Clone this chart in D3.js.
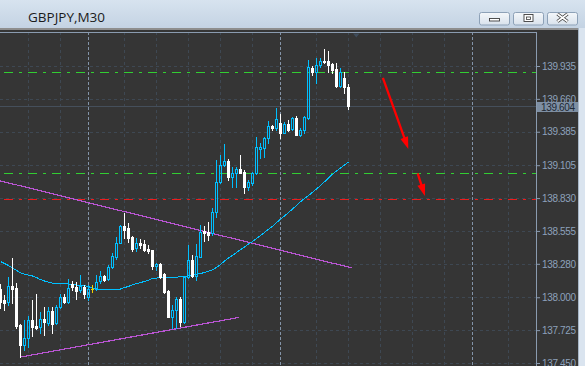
<!DOCTYPE html>
<html><head><meta charset="utf-8">
<script src="https://cdn.jsdelivr.net/npm/d3@7"></script>
<style>html,body{margin:0;padding:0;background:#353535;overflow:hidden}svg{display:block}</style>
</head><body><svg id="c" width="585" height="366"></svg>
<script>
const symbolTitle = "GBPJPY,M30";
const opens = [138.069,137.973,137.963,138.094,138.075,137.768,137.600,137.656,137.810,137.763,
137.748,137.820,137.787,137.882,137.782,137.921,138.004,137.963,138.111,138.088,
138.061,138.088,138.004,138.069,138.069,138.132,138.178,138.153,138.251,138.339,
138.456,138.596,138.577,138.507,138.415,138.456,138.445,138.401,138.395,138.264,
138.276,138.192,138.052,137.837,137.893,137.985,137.795,138.167,138.312,138.178,
138.339,138.554,138.543,138.535,138.716,138.967,139.107,139.143,139.009,139.037,
139.071,139.050,138.925,138.953,139.037,139.240,139.246,139.330,139.433,139.414,
139.461,139.377,139.450,139.405,139.497,139.358,139.399,139.497,139.916,139.887,
139.943,139.977,139.977,139.952,139.907,139.768,139.832,139.757];
const highs = [138.111,138.019,138.172,138.326,138.117,137.776,137.810,137.847,137.977,138.027,
137.879,137.918,137.921,137.918,137.935,138.027,138.031,138.150,138.132,138.130,
138.186,138.102,138.102,138.102,138.186,138.220,138.186,138.270,138.368,138.507,
138.604,138.707,138.619,138.512,138.493,138.485,138.479,138.437,138.399,138.284,
138.284,138.199,138.061,137.935,138.004,138.004,138.172,138.437,138.353,138.445,
138.604,138.596,138.632,138.744,139.148,139.190,139.282,139.157,139.087,139.092,
139.190,139.065,138.981,139.052,139.338,139.288,139.338,139.477,139.441,139.581,
139.533,139.469,139.483,139.506,139.517,139.414,139.517,139.985,139.935,139.999,
139.999,140.077,140.063,139.963,139.958,139.918,139.887,139.784];
const lows = [137.910,137.893,137.935,137.949,137.743,137.500,137.558,137.588,137.676,137.734,
137.701,137.684,137.768,137.701,137.776,137.914,137.952,137.956,138.061,137.985,
138.046,137.994,137.977,138.046,138.061,138.123,138.136,138.144,138.242,138.320,
138.451,138.493,138.465,138.389,138.387,138.410,138.389,138.368,138.236,138.228,
138.158,138.033,137.832,137.740,137.740,137.759,137.782,138.158,138.172,138.144,
138.334,138.473,138.479,138.521,138.674,138.960,139.098,138.981,138.925,138.920,
139.037,138.870,138.897,138.943,139.031,139.163,139.170,139.288,139.399,139.399,
139.330,139.372,139.394,139.399,139.355,139.349,139.372,139.489,139.860,139.795,
139.924,139.958,139.887,139.874,139.757,139.757,139.712,139.575];
const closes = [137.960,137.956,138.094,138.071,137.762,137.600,137.656,137.810,137.753,137.747,
137.815,137.795,137.882,137.776,137.921,138.004,137.958,138.075,138.086,138.055,
138.094,138.027,138.066,138.069,138.130,138.178,138.144,138.251,138.345,138.456,
138.596,138.563,138.493,138.401,138.451,138.437,138.395,138.387,138.264,138.276,
138.167,138.046,137.837,137.893,137.985,137.795,138.167,138.312,138.178,138.345,
138.548,138.535,138.523,138.716,138.967,139.107,139.143,139.009,139.037,139.071,
139.042,138.925,138.967,139.037,139.255,139.255,139.335,139.433,139.419,139.489,
139.377,139.447,139.399,139.497,139.358,139.399,139.506,139.924,139.887,139.943,
139.979,139.968,139.943,139.902,139.768,139.885,139.757,139.604];
const maValues = [138.299,138.282,138.266,138.245,138.224,138.205,138.194,138.186,138.178,138.165,
138.148,138.136,138.127,138.119,138.116,138.114,138.112,138.111,138.107,138.102,
138.101,138.098,138.088,138.079,138.071,138.065,138.062,138.061,138.061,138.061,
138.069,138.081,138.091,138.105,138.115,138.122,138.133,138.144,138.156,138.161,
138.163,138.166,138.167,138.168,138.169,138.171,138.173,138.178,138.184,138.191,
138.199,138.207,138.218,138.231,138.249,138.274,138.303,138.328,138.351,138.374,
138.398,138.421,138.445,138.467,138.492,138.517,138.543,138.568,138.594,138.625,
138.652,138.680,138.709,138.738,138.769,138.799,138.826,138.852,138.878,138.906,
138.935,138.966,138.998,139.030,139.056,139.081,139.107,139.132];
const priceTicks = [139.935,139.660,139.385,139.105,138.830,138.555,138.280,138.000,137.725,137.450];
const gridBars = [7,15,31,39,47,55,63,79,87,95,103,111,127];
const daySeparatorBars = [22,70,118];
const bidPrice = 139.604;
const greenLevels = [139.885, 139.040];
const redLevels = [138.823];
const trendLines = [{b1:-2,p1:138.990,b2:87.9,p2:138.245},{b1:5.05,p1:137.500,b2:59.7,p2:137.832}];
const arrows = [{b1:95.6,p1:139.835,b2:101.95,p2:139.241},{b1:104.3,p1:139.037,b2:106.1,p2:138.847}];

const W = 585, H = 366;
const plotRight = 536, plotTop = 32;
const svg = d3.select("#c");
const y = d3.scaleLinear().domain([137.450, 139.935]).range([363, 66]);
const x = d3.scaleLinear().domain([0, 1]).range([0.5, 4.5]);
const ry = v => Math.round(y(v));

const defs = svg.append("defs");
const tg = defs.append("linearGradient").attr("id","tb").attr("x1",0).attr("y1",0).attr("x2",0).attr("y2",1);
tg.append("stop").attr("offset","0").attr("stop-color","#d7e3ef");
tg.append("stop").attr("offset","1").attr("stop-color","#c4d3e3");
const bg = defs.append("linearGradient").attr("id","bt").attr("x1",0).attr("y1",0).attr("x2",0).attr("y2",1);
bg.append("stop").attr("offset","0").attr("stop-color","#f4f7fa");
bg.append("stop").attr("offset","1").attr("stop-color","#d9e2ec");
defs.append("clipPath").attr("id","plot").append("rect").attr("x",0).attr("y",plotTop+1).attr("width",plotRight).attr("height",H-plotTop);

// window chrome
svg.append("rect").attr("x",0).attr("y",0).attr("width",W).attr("height",28).attr("fill","url(#tb)");
svg.append("rect").attr("x",0).attr("y",28).attr("width",W).attr("height",2).attr("fill","#8e8e8e");
svg.append("rect").attr("x",0).attr("y",30).attr("width",578).attr("height",H-30).attr("fill","#353535");
svg.append("rect").attr("x",578).attr("y",28).attr("width",7).attr("height",H-28).attr("fill","#dae4ef");
svg.append("line").attr("x1",578.5).attr("x2",578.5).attr("y1",28).attr("y2",H).attr("stroke","#a7b6c6");
svg.append("text").attr("x",28).attr("y",21.5).text(symbolTitle)
  .attr("font-family","'Open Sans', 'Noto Sans', sans-serif").attr("font-size",13.5).attr("fill","#1b1b1b");

const btns = [479.5, 513.5, 547.5];
btns.forEach((bx, k) => {
  svg.append("rect").attr("x",bx).attr("y",12.5).attr("width",30).attr("height",12.5).attr("rx",2)
    .attr("fill","url(#bt)").attr("stroke","#8da1b7");
  const cx = bx + 15;
  if (k === 0) {
    svg.append("rect").attr("x",cx-5).attr("y",18.5).attr("width",10).attr("height",2.5).attr("fill","#fff").attr("stroke","#3d3d3d").attr("stroke-width",0.9);
  } else if (k === 1) {
    svg.append("rect").attr("x",cx-4.5).attr("y",14.5).attr("width",9).attr("height",7).attr("fill","#fff").attr("stroke","#3d3d3d").attr("stroke-width",0.9);
    svg.append("rect").attr("x",cx-2).attr("y",17).attr("width",4).attr("height",2.5).attr("fill","none").attr("stroke","#3d3d3d").attr("stroke-width",0.8);
  } else {
    const p = `M${cx-5},${14} L${cx+5},${21.5} M${cx+5},${14} L${cx-5},${21.5}`;
    svg.append("path").attr("d",p).attr("stroke","#3d3d3d").attr("stroke-width",3.4).attr("fill","none");
    svg.append("path").attr("d",p).attr("stroke","#ffffff").attr("stroke-width",1.6).attr("fill","none");
  }
});

const g = svg.append("g").attr("clip-path","url(#plot)");
// grid
g.selectAll(".hg").data(priceTicks).enter().append("line")
  .attr("x1",0).attr("x2",plotRight).attr("y1",d=>ry(d)+0.5).attr("y2",d=>ry(d)+0.5)
  .attr("stroke","#3e4853").attr("stroke-dasharray","3,3");
g.selectAll(".vg").data(gridBars).enter().append("line")
  .attr("x1",d=>x(d)).attr("x2",d=>x(d)).attr("y1",plotTop).attr("y2",H)
  .attr("stroke","#3e4853").attr("stroke-dasharray","3,3");
g.selectAll(".sep").data(daySeparatorBars).enter().append("line")
  .attr("x1",d=>x(d)).attr("x2",d=>x(d)).attr("y1",plotTop).attr("y2",H)
  .attr("stroke","#8394a8").attr("stroke-dasharray","3,2");
// bid line
g.append("line").attr("x1",0).attr("x2",plotRight).attr("y1",ry(bidPrice)+0.5).attr("y2",ry(bidPrice)+0.5)
  .attr("stroke","#454f5b");
// levels
const lvl = (arr, col) => g.selectAll(null).data(arr).enter().append("line")
  .attr("x1",0).attr("x2",plotRight).attr("y1",d=>ry(d)+0.5).attr("y2",d=>ry(d)+0.5)
  .attr("stroke",col).attr("stroke-dasharray","9,6,3,6").attr("stroke-dashoffset",-4);
lvl(greenLevels, "#32cd32");
lvl(redLevels, "#ee1c1c");

// trend lines
g.selectAll(".tl").data(trendLines).enter().append("line")
  .attr("x1",d=>x(d.b1)).attr("y1",d=>y(d.p1)).attr("x2",d=>x(d.b2)).attr("y2",d=>y(d.p2))
  .attr("stroke","#ba55d3").attr("stroke-width",1.2).attr("shape-rendering","crispEdges");

// moving average
g.append("path").datum(maValues)
  .attr("d", d3.line().x((d,i)=>x(i)).y(d=>y(d)))
  .attr("fill","none").attr("stroke","#00bfff").attr("stroke-width",1).attr("shape-rendering","crispEdges");

// candles
const blue = "#00bfff";
const cg = g.append("g").attr("shape-rendering","crispEdges");
opens.forEach((o,i) => {
  const c = closes[i], h = highs[i], l = lows[i];
  const cx = Math.round(x(i) - 0.5);
  const yh = ry(h), yl = ry(l);
  const top = ry(Math.max(o,c)), bot = ry(Math.min(o,c));
  if (c > o) {
    if (yh < top) cg.append("rect").attr("x",cx).attr("y",yh).attr("width",1).attr("height",top-yh).attr("fill",blue);
    if (yl > bot) cg.append("rect").attr("x",cx).attr("y",bot+1).attr("width",1).attr("height",yl-bot).attr("fill",blue);
    cg.append("rect").attr("x",cx-0.5).attr("y",top+0.5).attr("width",2).attr("height",Math.max(1,bot-top))
      .attr("fill","none").attr("stroke",blue).attr("stroke-width",1);
  } else if (c < o) {
    cg.append("rect").attr("x",cx).attr("y",yh).attr("width",1).attr("height",yl-yh+1).attr("fill","#ffffff");
    cg.append("rect").attr("x",cx-1).attr("y",top).attr("width",3).attr("height",Math.max(1,bot-top+1)).attr("fill","#ffffff");
  } else {
    cg.append("rect").attr("x",cx).attr("y",yh).attr("width",1).attr("height",yl-yh+1).attr("fill","#f2d100");
    cg.append("rect").attr("x",cx-1).attr("y",top).attr("width",3).attr("height",1).attr("fill","#f2d100");
  }
});

// arrows
arrows.forEach(a => {
  const sx = x(a.b1), sy = y(a.p1), ex = x(a.b2), ey = y(a.p2);
  const len = Math.hypot(ex-sx, ey-sy), ux = (ex-sx)/len, uy = (ey-sy)/len;
  const nx = -uy, ny = ux, hl = 12, hw = 4;
  g.append("line").attr("x1",sx).attr("y1",sy).attr("x2",ex-ux*hl*0.8).attr("y2",ey-uy*hl*0.8)
    .attr("stroke","#ff0000").attr("stroke-width",2.3);
  g.append("path").attr("d",`M${ex},${ey}L${ex-ux*hl+nx*hw},${ey-uy*hl+ny*hw}L${ex-ux*hl-nx*hw},${ey-uy*hl-ny*hw}Z`)
    .attr("fill","#ff0000");
});

// chart-shift marker
svg.append("path").attr("d","M353,33.5L359.5,33.5L356.25,37.5Z").attr("fill","#3f4c5b");

// frame
svg.append("line").attr("x1",0).attr("x2",plotRight+1).attr("y1",plotTop+0.5).attr("y2",plotTop+0.5).attr("stroke","#8a9bb0");
svg.append("line").attr("x1",plotRight+0.5).attr("x2",plotRight+0.5).attr("y1",plotTop).attr("y2",H).attr("stroke","#8a9bb0");

// price axis
const axis = d3.axisRight(y).tickValues(priceTicks).tickSize(3).tickPadding(2).tickFormat(d3.format(".3f"));
const ag = svg.append("g").attr("transform",`translate(${plotRight+1},0)`).call(axis);
ag.select(".domain").remove();
ag.selectAll(".tick line").attr("stroke","#8a9bb0");
ag.selectAll(".tick text").attr("fill","#8da1bb").attr("font-family","'Liberation Sans', Arial, sans-serif")
  .attr("font-size",10).attr("letter-spacing",-0.35);

// bid label
const by = ry(bidPrice);
svg.append("rect").attr("x",plotRight+1).attr("y",by-4).attr("width",41).attr("height",10).attr("fill","#7e8fa3");
svg.append("text").attr("x",plotRight+5).attr("y",by+4.5).text(d3.format(".3f")(bidPrice))
  .attr("fill","#1d2733").attr("font-family","'Liberation Sans', Arial, sans-serif").attr("font-size",10).attr("letter-spacing",-0.35);
</script></body></html>
